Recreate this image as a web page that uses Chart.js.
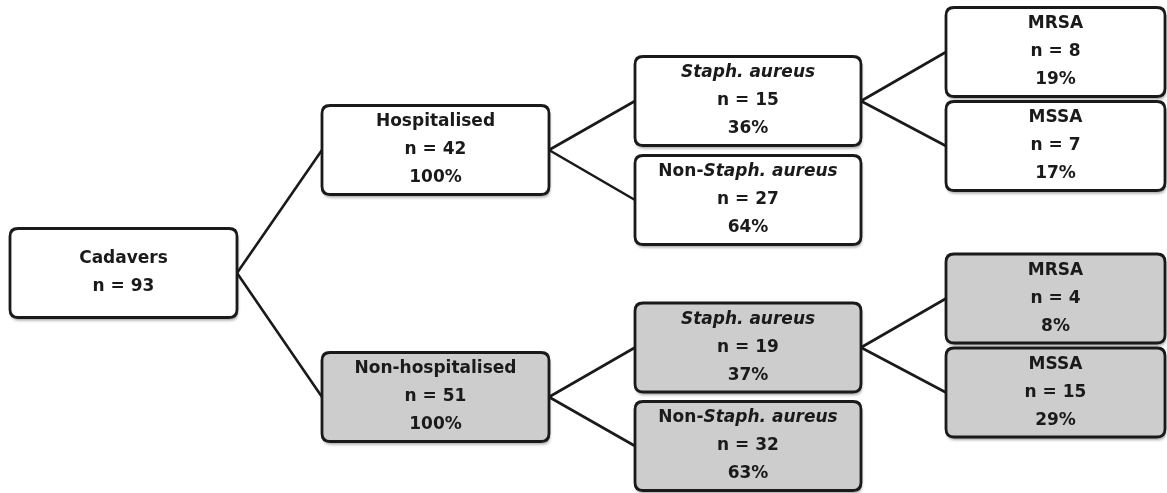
<!DOCTYPE html>
<html>
<head>
<meta charset="utf-8">
<script src="https://cdn.jsdelivr.net/npm/chart.js@4.4.1/dist/chart.umd.min.js"></script>
<style>
  html, body { margin: 0; padding: 0; background: #ffffff; }
  #wrap { width: 1167px; height: 493px; }
</style>
</head>
<body>
<div id="wrap"><canvas id="tree" width="1167" height="493"></canvas></div>
<script>
// Tree of cadaver samples: hospitalised / non-hospitalised -> Staph. aureus -> MRSA / MSSA
// *...* marks the italic part of a label
const nodeNames = [
  'Cadavers',
  'Hospitalised', 'Non-hospitalised',
  '*Staph. aureus*', 'Non-*Staph. aureus*', 'MRSA', 'MSSA',
  '*Staph. aureus*', 'Non-*Staph. aureus*', 'MRSA', 'MSSA'
];
const nodeCounts = [93, 42, 51, 15, 27, 8, 7, 19, 32, 4, 15];
const nodePercents = [null, 100, 100, 36, 64, 19, 17, 37, 63, 8, 29];
const nodeParents = [-1, 0, 0, 1, 1, 3, 3, 2, 2, 7, 7];
const nodeShaded = [false, false, true, false, false, false, false, true, true, true, true];

// layout: column of each node and its vertical slot (chart units)
const nodeLevel = [0, 1, 1, 2, 2, 3, 3, 2, 2, 3, 3];
const levelCenters = [123.5, 435.5, 748, 1055.5];
const nodeRow = [273, 150, 397, 101, 200, 52, 146, 347.5, 446, 298.5, 392.5];

const boxWidths = [227, 227, 226, 219];
const boxHeight = 89;
const fontSize = 17;
const fontFamily = '"DejaVu Sans", sans-serif';
const lineGap = 28;

function parseLabel(label) {
  return label.split('*')
    .map((text, i) => ({ text, italic: i % 2 === 1 }))
    .filter(part => part.text.length);
}

function roundRect(ctx, x, y, w, h, r) {
  ctx.beginPath();
  ctx.moveTo(x + r, y);
  ctx.lineTo(x + w - r, y);
  ctx.quadraticCurveTo(x + w, y, x + w, y + r);
  ctx.lineTo(x + w, y + h - r);
  ctx.quadraticCurveTo(x + w, y + h, x + w - r, y + h);
  ctx.lineTo(x + r, y + h);
  ctx.quadraticCurveTo(x, y + h, x, y + h - r);
  ctx.lineTo(x, y + r);
  ctx.quadraticCurveTo(x, y, x + r, y);
  ctx.closePath();
}

function drawLine(ctx, parts, cx, cy) {
  const fonts = parts.map(p => `${p.italic ? 'italic ' : ''}bold ${fontSize}px ${fontFamily}`);
  let total = 0;
  const widths = parts.map((p, i) => {
    ctx.font = fonts[i];
    const w = ctx.measureText(p.text).width;
    total += w;
    return w;
  });
  let x = cx - total / 2;
  parts.forEach((p, i) => {
    ctx.font = fonts[i];
    ctx.fillText(p.text, x, cy);
    x += widths[i];
  });
}

const treePlugin = {
  id: 'treeBoxes',
  afterDatasetsDraw(chart) {
    const ctx = chart.ctx;
    const xs = chart.scales.x;
    const ys = chart.scales.y;
    const centers = nodeNames.map((_, i) => ({
      x: xs.getPixelForValue(levelCenters[nodeLevel[i]]),
      y: ys.getPixelForValue(nodeRow[i]),
      w: boxWidths[nodeLevel[i]]
    }));

    ctx.save();
    // connectors
    ctx.strokeStyle = '#1a1a1a';
    ctx.lineWidth = 2.6;
    ctx.lineCap = 'round';
    nodeParents.forEach((p, i) => {
      if (p < 0) return;
      const a = centers[p];
      const b = centers[i];
      ctx.beginPath();
      ctx.moveTo(a.x + a.w / 2, a.y);
      ctx.lineTo(b.x - b.w / 2, b.y);
      ctx.stroke();
    });

    // boxes
    centers.forEach((c, i) => {
      const x = c.x - c.w / 2;
      const y = c.y - boxHeight / 2;
      ctx.save();
      ctx.shadowColor = 'rgba(0, 0, 0, 0.35)';
      ctx.shadowBlur = 3;
      ctx.shadowOffsetX = 1;
      ctx.shadowOffsetY = 3;
      roundRect(ctx, x, y, c.w, boxHeight, 8);
      ctx.fillStyle = nodeShaded[i] ? '#cdcdcd' : '#ffffff';
      ctx.fill();
      ctx.restore();
      roundRect(ctx, x, y, c.w, boxHeight, 8);
      ctx.lineWidth = 2.8;
      ctx.strokeStyle = '#1a1a1a';
      ctx.stroke();

      const lines = [parseLabel(nodeNames[i]), [{ text: `n = ${nodeCounts[i]}`, italic: false }]];
      if (nodePercents[i] !== null) lines.push([{ text: `${nodePercents[i]}%`, italic: false }]);
      ctx.fillStyle = '#1a1a1a';
      ctx.textBaseline = 'middle';
      ctx.textAlign = 'left';
      const start = c.y - (lines.length - 1) * lineGap / 2;
      lines.forEach((parts, k) => drawLine(ctx, parts, c.x, start + k * lineGap));
    });
    ctx.restore();
  }
};

new Chart(document.getElementById('tree'), {
  type: 'scatter',
  data: {
    datasets: [{
      data: nodeNames.map((_, i) => ({ x: levelCenters[nodeLevel[i]], y: nodeRow[i] })),
      pointRadius: 0
    }]
  },
  options: {
    responsive: false,
    animation: false,
    events: [],
    layout: { padding: 0 },
    plugins: { legend: { display: false }, tooltip: { enabled: false } },
    scales: {
      x: { type: 'linear', min: 0, max: 1167, display: false },
      y: { type: 'linear', min: 0, max: 493, reverse: true, display: false }
    }
  },
  plugins: [treePlugin]
});
</script>
</body>
</html>
